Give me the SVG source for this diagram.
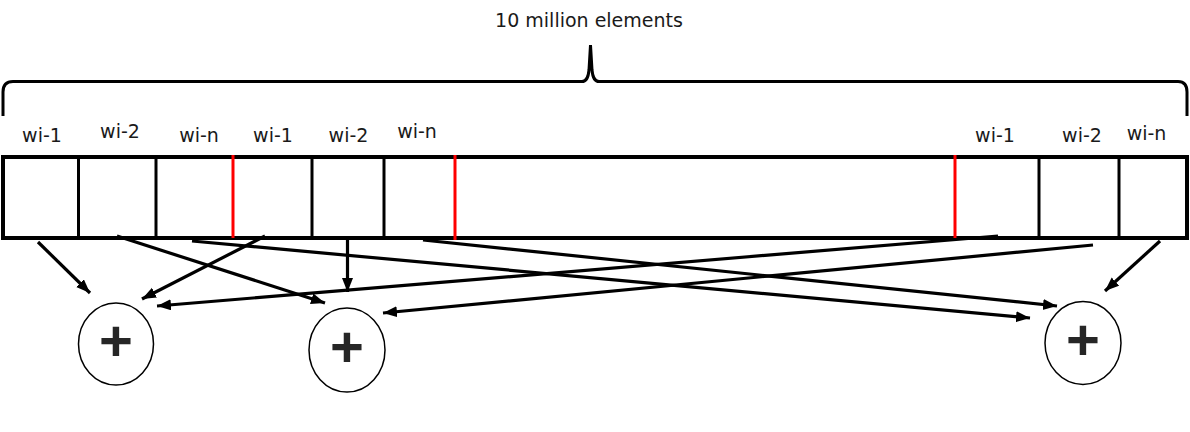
<svg xmlns="http://www.w3.org/2000/svg" width="1190" height="432" viewBox="0 0 1190 432">
<style>
.lbl{font-family:"DejaVu Sans",sans-serif;font-size:19px;fill:#1a1a1a;text-anchor:middle}
.div{stroke:#000;stroke-width:3}
.red{stroke:#ff0000;stroke-width:3}
.con{stroke:#000;stroke-width:3.2;fill:none;marker-end:url(#ah)}
.node{fill:#fff;stroke:#000;stroke-width:1.5}
.plus{font-family:"Liberation Sans",sans-serif;font-size:58px;font-weight:bold;fill:#262626;text-anchor:middle}
</style>
<defs>
<marker id="ah" markerUnits="userSpaceOnUse" markerWidth="16" markerHeight="14" refX="14" refY="5.5" orient="auto">
<path d="M0,0 L14,5.5 L0,11 z" fill="#000"/>
</marker>
</defs>
<rect width="1190" height="432" fill="#fff"/>
<g id="brace">
<path d="M3,116 L3,92 Q3,81.5 13,81.5 L582,81.5 Q588,81.5 589,70 L590.5,45 L592,70 Q593,81.5 599,81.5 L1178,81.5 Q1187,81.5 1187,92 L1187,116" fill="none" stroke="#000" stroke-width="3"/>
<text class="lbl" x="589" y="27">10 million elements</text>
</g>
<g id="array">
<rect x="3" y="157" width="1184" height="81" fill="#fff" stroke="#000" stroke-width="4"/>
<line class="div" x1="78.5" y1="157" x2="78.5" y2="238"/>
<line class="div" x1="156" y1="157" x2="156" y2="238"/>
<line class="red" x1="233" y1="155" x2="233" y2="238"/>
<line class="div" x1="312" y1="157" x2="312" y2="236"/>
<line class="div" x1="384" y1="157" x2="384" y2="238"/>
<line class="red" x1="455" y1="155" x2="455" y2="240"/>
<line class="red" x1="955" y1="155" x2="955" y2="238"/>
<line class="div" x1="1039" y1="157" x2="1039" y2="238"/>
<line class="div" x1="1119" y1="157" x2="1119" y2="238"/>
<text class="lbl" x="42" y="142">wi-1</text>
<text class="lbl" x="120" y="138">wi-2</text>
<text class="lbl" x="199" y="142">wi-n</text>
<text class="lbl" x="273" y="142">wi-1</text>
<text class="lbl" x="348.5" y="142">wi-2</text>
<text class="lbl" x="417" y="138">wi-n</text>
<text class="lbl" x="995" y="142">wi-1</text>
<text class="lbl" x="1082" y="142">wi-2</text>
<text class="lbl" x="1146.5" y="140">wi-n</text>
</g>
<g id="connectors">
<line class="con" x1="38" y1="242" x2="90" y2="293"/>
<line class="con" x1="117" y1="236" x2="325" y2="303"/>
<line class="con" x1="265" y1="236" x2="142" y2="299"/>
<line class="con" x1="192" y1="241" x2="1030" y2="318"/>
<line class="con" x1="423" y1="240" x2="1057" y2="306"/>
<line class="con" x1="998" y1="236" x2="157" y2="306"/>
<line class="con" x1="1093" y1="245" x2="383" y2="313"/>
<line class="con" x1="1160" y1="241" x2="1105" y2="291"/>
<line class="con" x1="347.5" y1="240" x2="347.5" y2="292"/>
</g>
<g id="sum1">
<ellipse class="node" cx="116" cy="344" rx="37.5" ry="41"/>
<text class="plus" x="116" y="361">+</text>
</g>
<g id="sum2">
<ellipse class="node" cx="347" cy="350" rx="38" ry="42"/>
<text class="plus" x="347" y="367">+</text>
</g>
<g id="sum3">
<ellipse class="node" cx="1083" cy="343" rx="38" ry="41.5"/>
<text class="plus" x="1083" y="360">+</text>
</g>
</svg>
